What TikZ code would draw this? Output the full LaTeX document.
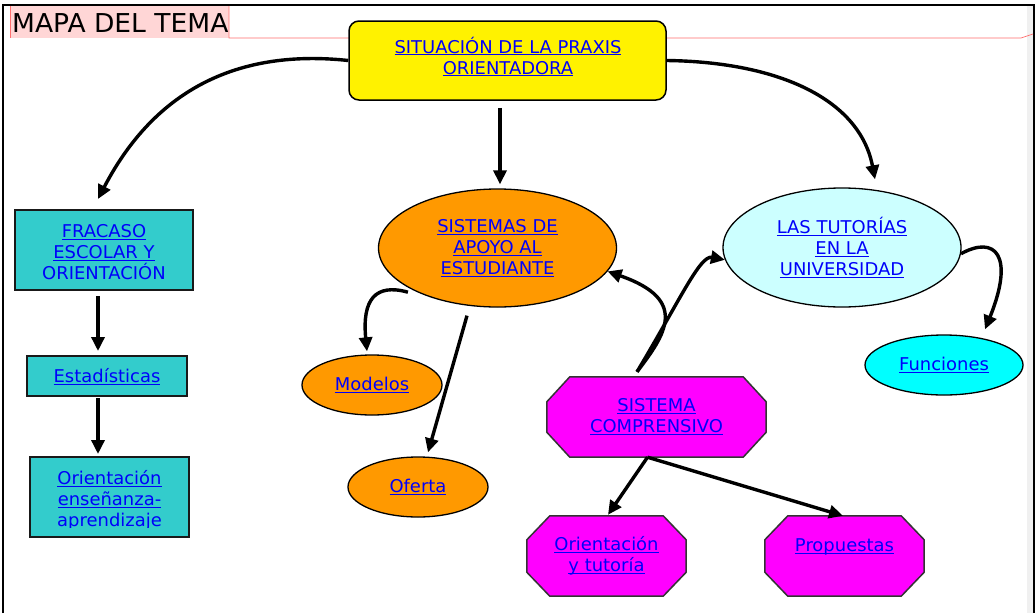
\documentclass[tikz,border=0pt]{standalone}
\usepackage{fontspec}
\setmainfont[FakeStretch=1.02]{DejaVu Sans}
\usetikzlibrary{shapes.geometric,arrows.meta,calc,backgrounds}
\definecolor{lnkblue}{RGB}{0,0,250}
\definecolor{tealc}{RGB}{51,204,204}
\definecolor{orangec}{RGB}{255,153,0}
\definecolor{lcyan}{RGB}{204,255,255}
\definecolor{cyanc}{RGB}{0,255,255}
\definecolor{magc}{RGB}{255,0,255}
\definecolor{titlepink}{RGB}{255,214,214}
\definecolor{titlered}{RGB}{255,110,110}
\definecolor{stripgray}{RGB}{240,240,240}
\newcommand\lnk[1]{\leavevmode\setbox0=\hbox{#1}\rlap{\rule[-2.3pt]{\wd0}{1.1pt}}\box0}
\newcommand\octshape[3]{%
  \begin{pgfonlayer}{background}
  \filldraw[octpath] ($(#1.north west)+(#2,0)$) -- ($(#1.north east)+(-#2,0)$) -- ($(#1.north east)+(0,#3)$) -- ($(#1.south east)+(0,-#3)$) -- ($(#1.south east)+(-#2,0)$) -- ($(#1.south west)+(#2,0)$) -- ($(#1.south west)+(0,-#3)$) -- ($(#1.north west)+(0,#3)$) -- cycle;
  \end{pgfonlayer}}
\tikzset{
  txt/.style={font=\fontsize{17.6}{21}\selectfont, text=lnkblue, align=center, inner sep=0pt},
  tealbox/.style={txt, rectangle, draw=black!90, line width=2pt, fill=tealc},
  ybox/.style={rectangle, draw=black, line width=1.5pt, fill=yellow, rounded corners=10pt},
  oval/.style={txt, ellipse, draw=black, line width=1.3pt},
  octnode/.style={txt, rectangle, draw=none},
  octpath/.style={draw=black!80, line width=1.5pt, fill=magc},
  arr/.style={line width=3.4pt, -{Triangle[length=14pt,width=13pt]}},
}
\begin{document}
\begin{tikzpicture}[x=1pt,y=-1pt]
\useasboundingbox (0,0) rectangle (1035,613);
\begin{pgfonlayer}{background}
\fill[white] (0,0) rectangle (1035,613);
\end{pgfonlayer}
% frame
\fill[stripgray] (1027,6) rectangle (1033,613);
\draw[line width=2pt] (3,613) -- (3,5) -- (1034,5) -- (1034,613);
% title
\fill[titlepink] (10,6) rectangle (229,38);
\draw[titlered, line width=0.9pt] (10,6) -- (10,38);
\draw[titlered, line width=0.7pt] (229,6) -- (229,38) -- (1021,38) -- (1033,34);
\node[anchor=base west, inner sep=0pt, font=\fontsize{26}{30}\selectfont, text=black] (title) at (12,32) {MAPA DEL TEMA};

% nodes
\node[ybox, minimum width=317pt, minimum height=79pt] (sit) at (507.5,60.5) {};
\node[txt] (sitT) at (508,56.5) {\lnk{SITUACIÓN DE LA PRAXIS}\\\lnk{ORIENTADORA}};

\node[tealbox, minimum width=178pt, minimum height=80pt] (fra) at (104,250) {};
\node[txt] (fraT) at (104,252) {\lnk{FRACASO}\\\lnk{ESCOLAR Y}\\ORIENTACIÓN};
\node[tealbox, minimum width=160pt, minimum height=40pt] (est) at (107,376) {};
\node[txt] (estT) at (107,377) {\lnk{Estadísticas}};
\node[tealbox, minimum width=159pt, minimum height=80pt] (ori) at (109.5,497) {};
\begin{scope}
\clip (31,458) rectangle (188,527);
\node[txt] (oriT) at (109.5,500.5) {\lnk{Orientación}\\\lnk{enseñanza-}\\aprendizaje};
\end{scope}

\node[oval, fill=orangec, minimum width=238pt, minimum height=118pt] (apoyo) at (497.5,248) {\lnk{SISTEMAS DE}\\\lnk{APOYO AL}\\\lnk{ESTUDIANTE}};
\node[oval, fill=orangec, minimum width=140pt, minimum height=60pt] (mod) at (372,385) {\lnk{Modelos}};
\node[oval, fill=orangec, minimum width=140pt, minimum height=60pt] (ofe) at (418,487) {\lnk{Oferta}};

\node[oval, fill=lcyan, minimum width=238pt, minimum height=119pt] (tut) at (842,247.5) {\lnk{LAS TUTORÍAS}\\\lnk{EN LA}\\\lnk{UNIVERSIDAD}};
\node[oval, fill=cyanc, minimum width=158pt, minimum height=60pt] (fun) at (944,365) {\lnk{Funciones}};

\node[octnode, minimum width=219pt, minimum height=80pt] (comp) at (656.5,417) {\lnk{SISTEMA}\\\lnk{COMPRENSIVO}};
\octshape{comp}{23}{25}
\node[octnode, minimum width=159pt, minimum height=80pt] (ori2) at (606.5,556) {\lnk{Orientación}\\\lnk{y tutoría}};
\octshape{ori2}{23}{24}
\node[octnode, minimum width=159pt, minimum height=80pt] (prop) at (844.5,556) {\lnk{Propuestas}\\\mbox{}};
\octshape{prop}{23}{24}

% connectors
\draw[arr] (sit.west) .. controls (250,50) and (160,80) .. ([xshift=-6pt,yshift=10pt]fra.north);
\draw[arr] ([xshift=-7.5pt,yshift=-7pt]sit.south) -- ([xshift=2.5pt,yshift=4pt]apoyo.north);
\draw[arr] (sit.east) .. controls (780,62) and (860,100) .. ([xshift=33pt,yshift=8pt]tut.north);
\draw[arr] ([xshift=-6pt,yshift=-5pt]fra.south) -- ([xshift=-9pt,yshift=4pt]est.north);
\draw[arr] ([xshift=-9pt,yshift=-1pt]est.south) -- ([xshift=-11.5pt,yshift=2pt]ori.north);
\draw[arr] ([xshift=-5pt,yshift=-2pt]apoyo.south west) .. controls (375,283) and (362,300) .. ([xshift=-5pt,yshift=3pt]mod.north);
\draw[arr] ([xshift=-30.5pt,yshift=-8pt]apoyo.south) -- ([xshift=10pt,yshift=4pt]ofe.north);
\draw[arr] ([xshift=-9pt]comp.south) -- ([xshift=1.5pt,yshift=1pt]ori2.north);
\draw[arr] ([xshift=-9pt]comp.south) -- ([xshift=-1.5pt]prop.north);
\draw[arr] ([xshift=-19.5pt,yshift=5pt]comp.north) .. controls (665,335) and (690,300) .. (apoyo.-12);
\draw[arr] ([xshift=-19.5pt,yshift=5pt]comp.north) .. controls (680,300) and (700,255) .. (tut.186);
\draw[arr] (tut.-3) .. controls (995,235) and (1015,255) .. ([xshift=41pt,yshift=5pt]fun.north);
\end{tikzpicture}
\end{document}
